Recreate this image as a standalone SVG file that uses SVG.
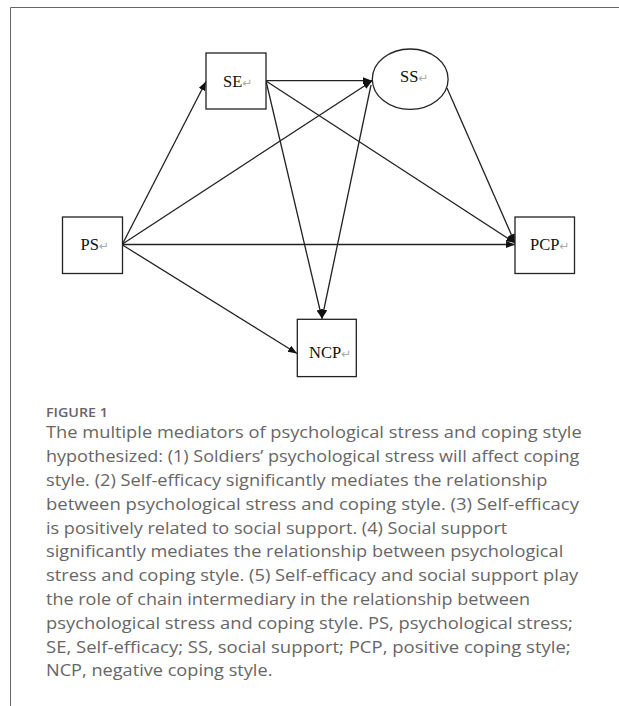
<svg xmlns="http://www.w3.org/2000/svg" width="619" height="706" viewBox="0 0 619 706">
<defs>
<style>
.box{fill:#fff;stroke:#222;stroke-width:1.3}
.edge{fill:none;stroke:#222;stroke-width:1.3}
.lbl{font-family:"Liberation Serif","Times New Roman",serif;font-size:16.5px;fill:#111}
.ret{font-family:"DejaVu Sans",sans-serif;font-size:12px;fill:#aaa}
.cap{font-family:"Open Sans","Liberation Sans",sans-serif;font-size:17px;fill:#666}
.fig{font-family:"Open Sans","Liberation Sans",sans-serif;font-size:12.5px;font-weight:600;fill:#666}
</style>
<marker id="arr" markerUnits="userSpaceOnUse" markerWidth="10" markerHeight="8" refX="9" refY="3.5" orient="auto">
<path d="M0,0 L9,3.5 L0,7 z" fill="#111"/>
</marker>
</defs>
<rect x="0" y="0" width="619" height="706" fill="#fff"/>
<path d="M10.5,706 V7.5 H619" fill="none" stroke="#666" stroke-width="1"/>

<g id="connectors">
<line class="edge" x1="122.5" y1="244" x2="206" y2="81.5" marker-end="url(#arr)"/>
<line class="edge" x1="122.5" y1="244" x2="372" y2="81" marker-end="url(#arr)"/>
<line class="edge" x1="122.5" y1="244.5" x2="515" y2="244.5" marker-end="url(#arr)"/>
<line class="edge" x1="122.5" y1="245" x2="297" y2="353.5" marker-end="url(#arr)"/>
<line class="edge" x1="266" y1="80.7" x2="372" y2="80.7" marker-end="url(#arr)"/>
<line class="edge" x1="266" y1="81" x2="322" y2="318.5" marker-end="url(#arr)"/>
<line class="edge" x1="266" y1="81" x2="515" y2="243" marker-end="url(#arr)"/>
<line class="edge" x1="371" y1="85" x2="322" y2="318.5" marker-end="url(#arr)"/>
<line class="edge" x1="447" y1="88" x2="515" y2="243" marker-end="url(#arr)"/>
</g>

<g id="node-SE">
<rect class="box" x="206" y="53" width="60" height="56"/>
<text class="lbl" x="223" y="86.5">SE<tspan class="ret">↵</tspan></text>
</g>
<g id="node-SS">
<ellipse class="box" cx="410.2" cy="79.2" rx="37.9" ry="30.2"/>
<text class="lbl" x="400" y="82">SS<tspan class="ret">↵</tspan></text>
</g>
<g id="node-PS">
<rect class="box" x="62.5" y="217" width="60" height="56.5"/>
<text class="lbl" x="80.5" y="250">PS<tspan class="ret">↵</tspan></text>
</g>
<g id="node-PCP">
<rect class="box" x="515" y="217" width="59.5" height="56.5"/>
<text class="lbl" x="530" y="249.5">PCP<tspan class="ret">↵</tspan></text>
</g>
<g id="node-NCP">
<rect class="box" x="297.3" y="319.3" width="59" height="57.3"/>
<text class="lbl" x="309" y="357.7">NCP<tspan class="ret">↵</tspan></text>
</g>

<g id="caption">
<text class="fig" x="46" y="416.7" textLength="62" lengthAdjust="spacingAndGlyphs">FIGURE 1</text>
<text class="cap" x="46" y="438.3" textLength="535.7" lengthAdjust="spacingAndGlyphs">The multiple mediators of psychological stress and coping style</text>
<text class="cap" x="46" y="462.1" textLength="533.3" lengthAdjust="spacingAndGlyphs">hypothesized: (1) Soldiers’ psychological stress will affect coping</text>
<text class="cap" x="46" y="485.9" textLength="501.3" lengthAdjust="spacingAndGlyphs">style. (2) Self-efficacy significantly mediates the relationship</text>
<text class="cap" x="46" y="509.7" textLength="533" lengthAdjust="spacingAndGlyphs">between psychological stress and coping style. (3) Self-efficacy</text>
<text class="cap" x="46" y="533.5" textLength="461.3" lengthAdjust="spacingAndGlyphs">is positively related to social support. (4) Social support</text>
<text class="cap" x="46" y="557.3" textLength="517.3" lengthAdjust="spacingAndGlyphs">significantly mediates the relationship between psychological</text>
<text class="cap" x="46" y="581.1" textLength="532.3" lengthAdjust="spacingAndGlyphs">stress and coping style. (5) Self-efficacy and social support play</text>
<text class="cap" x="46" y="604.9" textLength="484" lengthAdjust="spacingAndGlyphs">the role of chain intermediary in the relationship between</text>
<text class="cap" x="46" y="628.7" textLength="526.7" lengthAdjust="spacingAndGlyphs">psychological stress and coping style. PS, psychological stress;</text>
<text class="cap" x="46" y="652.5" textLength="524.7" lengthAdjust="spacingAndGlyphs">SE, Self-efficacy; SS, social support; PCP, positive coping style;</text>
<text class="cap" x="46" y="676.3" textLength="226.4" lengthAdjust="spacingAndGlyphs">NCP, negative coping style.</text>
</g>
</svg>
